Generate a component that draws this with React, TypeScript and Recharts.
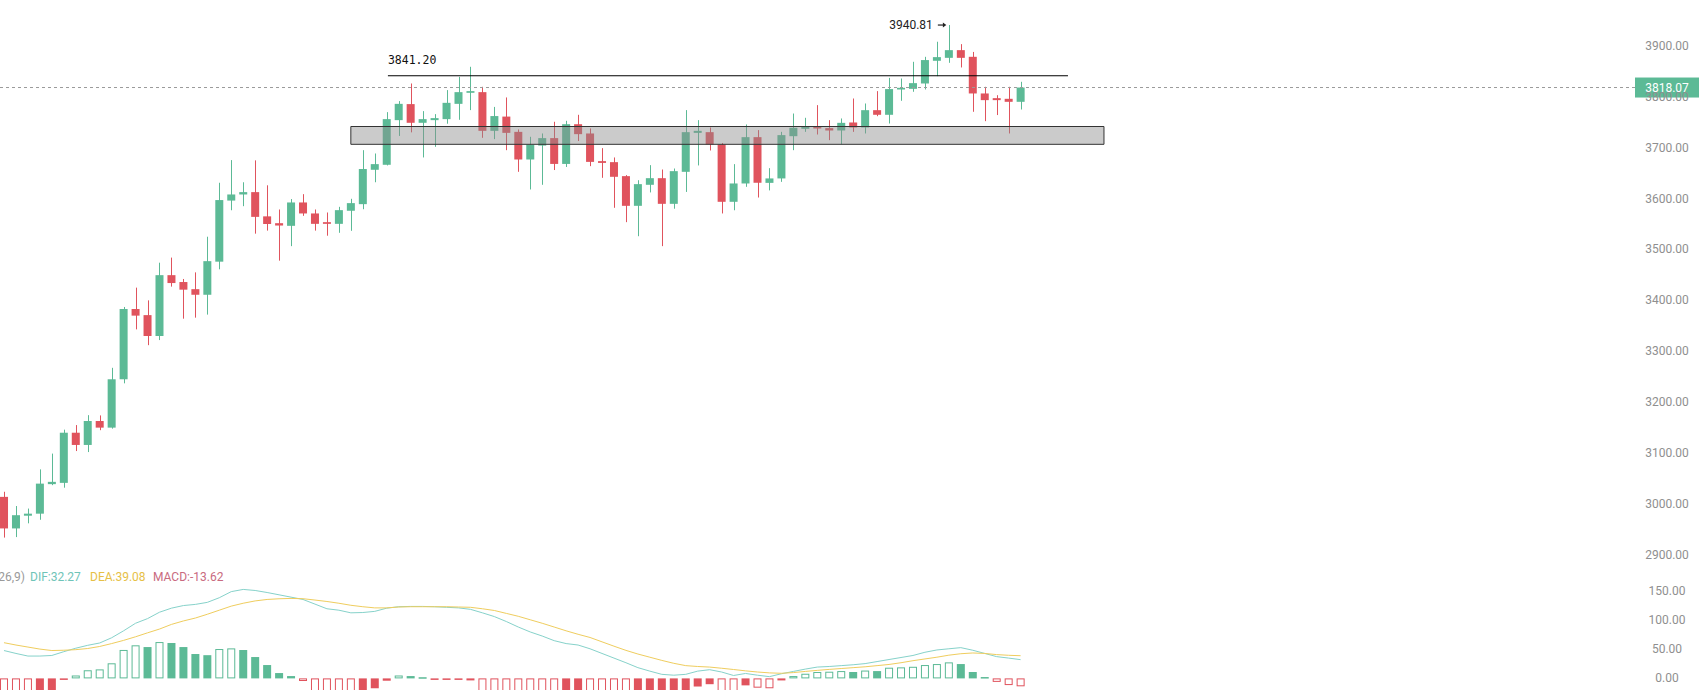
import {
  Bar,
  ComposedChart,
  Line,
  ReferenceArea,
  ReferenceDot,
  ReferenceLine,
  XAxis,
  YAxis
} from "recharts";

// daily candles (oldest first)
const opens = [
  3014, 2952, 2977, 2981, 3039, 3041.5, 3140, 3116, 3163, 3150,
  3245, 3383, 3371, 3330, 3449.5, 3436, 3422, 3411, 3476, 3596,
  3608, 3612.6, 3565, 3551.6, 3546.4, 3592.3, 3570.7, 3553.6, 3550.3, 3576,
  3589, 3656.5, 3666.3, 3754, 3785.5, 3748.8, 3754, 3756, 3786, 3807.7,
  3809, 3733, 3761, 3731, 3676.7, 3704, 3718.7, 3668, 3746, 3727.8,
  3673.5, 3671.5, 3644, 3585.7, 3627, 3640, 3589.6, 3652.5, 3729, 3730.4,
  3706.2, 3593.6, 3629.6, 3720.6, 3630.8, 3639.5, 3722.5, 3737, 3741.5, 3738.3,
  3733.7, 3749.4, 3739.6, 3773.6, 3764.5, 3814.2, 3815.5, 3826, 3870.6, 3876.4,
  3891.5, 3878.4, 3806.4, 3797.2, 3795.9, 3790
];
const highs = [
  3024, 2996, 2991, 3068, 3099, 3146, 3155, 3174.5, 3174, 3267.5,
  3387, 3425, 3400, 3474, 3484, 3442, 3455, 3525, 3631, 3675.5,
  3632, 3675, 3626, 3578.5, 3599, 3608.6, 3578.5, 3572.6, 3583.7, 3599.5,
  3695, 3688.5, 3769.7, 3791.4, 3826, 3771.7, 3765.8, 3813, 3839, 3858.8,
  3819.5, 3780, 3798.6, 3735.7, 3721.3, 3727.8, 3750.8, 3752.7, 3764.5, 3737.7,
  3699, 3680.7, 3646, 3636, 3665.6, 3657, 3659, 3773.7, 3754, 3739.6,
  3709, 3667.6, 3745.5, 3734.4, 3659.7, 3731, 3767, 3758.6, 3783.5, 3754,
  3757.3, 3796.5, 3786.7, 3811, 3837, 3835.8, 3868.6, 3878.4, 3908, 3940.81,
  3903.3, 3888, 3819.5, 3803, 3819.5, 3829.3
];
const lows = [
  2934, 2935, 2962, 2969, 3037, 3032, 3104, 3102, 3145, 3148,
  3237, 3343, 3312, 3322, 3427, 3364, 3366, 3372, 3461, 3577,
  3585, 3531, 3537, 3478, 3506.5, 3566, 3537, 3527, 3532.7, 3536.6,
  3579, 3632, 3665, 3723, 3730, 3680.7, 3701.6, 3747, 3754.7, 3773.7,
  3719.3, 3716.7, 3695, 3652.5, 3617.8, 3627, 3656, 3662, 3713, 3663.6,
  3640.7, 3581.8, 3553.6, 3526, 3612, 3506.5, 3580, 3613, 3665, 3694.4,
  3570.7, 3577, 3623, 3602, 3616, 3632.8, 3695, 3731, 3725.8, 3714.7,
  3706.8, 3731, 3727.8, 3761.8, 3747.4, 3792, 3809.7, 3814.2, 3840.4, 3866.6,
  3857.5, 3770.4, 3752, 3764, 3727.8, 3774.9
];
const closes = [
  2952, 2978, 2981, 3040, 3043.5, 3140, 3116, 3163, 3150, 3245,
  3383, 3370, 3330, 3449.5, 3434, 3421, 3411, 3477, 3597, 3608,
  3612.6, 3564, 3550, 3547, 3592.3, 3570.7, 3550.3, 3550.3, 3577.2, 3591,
  3658, 3667.6, 3756, 3786, 3748.8, 3756, 3758, 3788, 3809, 3811,
  3733, 3762, 3729, 3676.7, 3706, 3718.7, 3668, 3746, 3726.5, 3672,
  3670, 3642.7, 3585.7, 3628.3, 3640, 3589.6, 3653.8, 3730.4, 3733, 3706.2,
  3593.6, 3629.6, 3720.6, 3631, 3639.5, 3724.6, 3739, 3741.5, 3737.6, 3733.7,
  3748.7, 3739.6, 3773.6, 3764.5, 3815, 3817.5, 3826.7, 3872, 3877.8, 3891.5,
  3876.4, 3806.4, 3793.3, 3793.3, 3790, 3818.07
];

// MACD(12,26,9)
const difValues = [
  48, 43, 38.5, 38.5, 39.5, 46, 52, 57, 61, 70,
  82, 95, 103, 114, 121, 125.5, 127.5, 131, 139, 149.5,
  153.3, 151.5, 148, 144, 140, 136, 128, 120, 117.5, 113,
  113.5, 115.5, 121, 123.5, 124, 124, 123.5, 122.5, 121.5, 119,
  113, 106.5, 98, 88.5, 80, 73, 65, 60, 57.5, 51,
  43, 35, 27, 18.5, 12.5, 7, 5.5, 7, 12.5, 15,
  11, 5, 8.5, 5.5, 3, 8, 12, 16, 19.5, 20.5,
  22, 23.5, 25.5, 29, 32.5, 36, 39.5, 45, 49, 51,
  53, 48.5, 43, 37.5, 35, 32.27
];
const deaValues = [
  61.5, 57.5, 54, 50.5, 48, 48.5, 49.5, 51.5, 55, 60,
  65.5, 71.7, 78.5, 85, 93, 99, 104, 110.5, 117.5, 124.5,
  129.5, 133.5, 136, 137.2, 137.8, 137.3, 135, 132.5, 129.5, 126,
  123.5, 121.5, 121.5, 123, 123.5, 123.5, 123.5, 123.5, 123, 122.5,
  120, 117, 112, 107, 101, 95, 88.5, 82, 76, 70.5,
  63, 55.5, 48.3, 42, 36.5, 31, 26, 22, 20.5, 19.5,
  17.5, 15.3, 13, 11, 9.5, 8.8, 10, 12, 13.8, 15.5,
  17, 18.5, 20, 22, 24, 27, 30.5, 33.5, 36.5, 40,
  42.5, 43.8, 43, 41, 39.8, 39.08
];
const macdValues = [
  -26, -29, -32, -26, -21, -2, 5, 14, 15.5, 26,
  49, 57, 54, 62.6, 61, 54, 42, 40, 50.6, 51.7,
  48.9, 36.8, 23, 9.2, 4, -4.5, -22, -27, -30, -34,
  -26, -17, -4, 5, 4, 2, -2, -2, -1, -3,
  -22, -28, -34, -40, -44, -48, -52, -46, -38, -42,
  -46, -50, -54, -48, -44, -40, -36, -28, -14, -10,
  -22, -28, -12, -16, -17, -3.5, 4, 8, 11, 11.5,
  12.6, 11, 13.5, 12.6, 18.4, 19, 20, 23, 24.7, 27.6,
  24.7, 11, 2.3, -6, -11.5, -13.62
];

const priceTicks = [2900, 3000, 3100, 3200, 3300, 3400, 3500, 3600, 3700, 3800, 3900];
const macdTicks = [0, 50, 100, 150];

const lastPrice = 3818.07;
const resistance = 3841.2;
const peakPrice = 3940.81;
const peakIndex = 79;
const zoneLow = 3706.5;
const zoneHigh = 3741.5;

const GREEN = "#5cba96";
const RED = "#e0535d";
const AXIS_TEXT = "#8f8f8f";

const rows = opens.map((open, i) => ({
  i,
  open,
  high: highs[i],
  low: lows[i],
  close: closes[i],
  dif: difValues[i],
  dea: deaValues[i],
  hist: macdValues[i]
}));

const xDomain: [number, number] = [-0.334, 136.37];

function Candle(props: any) {
  const { x, y, width, height, payload } = props;
  const top = Math.min(y, y + height);
  const h = Math.abs(height);
  const { open, close, high, low } = payload;
  const k = h / (high - low);
  const color = close >= open ? GREEN : RED;
  const bodyTop = top + (high - Math.max(open, close)) * k;
  const bodyH = Math.max(Math.abs(open - close) * k, 1.5);
  const cx = Math.round(x + width / 2) + 0.5;
  return (
    <g>
      <line x1={cx} x2={cx} y1={top} y2={top + h} stroke={color} strokeWidth={1} />
      <rect x={x} y={bodyTop} width={width} height={bodyH} fill={color} />
    </g>
  );
}

function HistBar(props: any) {
  const { x, y, width, height, index, payload } = props;
  const top = Math.min(y, y + height);
  const h = Math.abs(height);
  const v = payload.hist;
  const prev = index > 0 ? macdValues[index - 1] : 0;
  const color = v >= 0 ? GREEN : RED;
  // hollow while the bar grows, filled while it shrinks
  if (Math.abs(v) > Math.abs(prev)) {
    return (
      <rect x={x + 0.5} y={top + 0.5} width={width - 1} height={Math.max(h - 1, 1)}
        fill="none" stroke={color} strokeWidth={1} />
    );
  }
  return <rect x={x} y={top} width={width} height={Math.max(h, 1.5)} fill={color} />;
}

function AxisTick(props: any) {
  const { x, y, payload } = props;
  return (
    <text x={x + 32} y={y} dy={4} textAnchor="middle" fill={AXIS_TEXT} fontSize={12}
      fontFamily="Roboto, sans-serif">
      {Number(payload.value).toFixed(2)}
    </text>
  );
}

function LastPriceTag(props: any) {
  const { viewBox } = props;
  const x = viewBox.x + viewBox.width;
  const y = viewBox.y;
  return (
    <g>
      <rect x={x} y={y - 10} width={64} height={20} fill={GREEN} />
      <text x={x + 32} y={y} dy={4} textAnchor="middle" fill="#fff" fontSize={12}
        fontFamily="Roboto, sans-serif">
        {lastPrice.toFixed(2)}
      </text>
    </g>
  );
}

function ResistanceTag(props: any) {
  const { viewBox } = props;
  return (
    <text x={viewBox.x} y={viewBox.y - 12} fill="#111" fontSize={11.5}
      fontFamily="'DejaVu Sans Mono', monospace">
      {resistance.toFixed(2)}
    </text>
  );
}

function PeakTag(props: any) {
  const { viewBox } = props;
  const cx = viewBox.x + viewBox.width / 2;
  const cy = viewBox.y + viewBox.height / 2;
  return (
    <g>
      <text x={cx - 16} y={cy + 3.5} textAnchor="end" fill="#222" fontSize={12}
        fontFamily="Roboto, sans-serif">
        {peakPrice.toFixed(2)}
      </text>
      <line x1={cx - 11} x2={cx - 4} y1={cy} y2={cy} stroke="#222" strokeWidth={1.2} />
      <path d={`M${cx - 2.5},${cy} L${cx - 6},${cy - 2.5} L${cx - 6},${cy + 2.5} Z`} fill="#222" />
    </g>
  );
}

export default function App() {
  return (
    <div style={{ position: "absolute", left: 0, top: 0, width: 1699, height: 690, background: "#fff", overflow: "hidden" }}>
      <div style={{ position: "absolute", left: 0, top: 0 }}>
        <ComposedChart width={1699} height={580} data={rows} margin={{ top: 0, right: 0, bottom: 0, left: 0 }}>
          <XAxis dataKey="i" type="number" domain={xDomain} allowDataOverflow hide />
          <YAxis orientation="right" width={64} domain={[2850.7, 3990]} ticks={priceTicks} allowDataOverflow
            interval={0} axisLine={false} tickLine={false} tickSize={0} tickMargin={0} tick={<AxisTick />} />
          <ReferenceLine y={lastPrice} stroke="#9a9a9a" strokeDasharray="3 3" label={<LastPriceTag />} />
          <Bar dataKey={(d: any) => [d.low, d.high]} barSize={8} shape={<Candle />} isAnimationActive={false} />
          <ReferenceArea x1={29.0} x2={91.97} y1={zoneLow} y2={zoneHigh} fill="#8c8c8c" fillOpacity={0.45}
            stroke="#333" strokeWidth={1} zIndex={350} />
          <ReferenceLine segment={[{ x: 32.1, y: resistance }, { x: 88.96, y: resistance }]} stroke="#000"
            strokeWidth={1} label={<ResistanceTag />} />
          <ReferenceDot x={peakIndex} y={peakPrice} r={1} fill="none" stroke="none" label={<PeakTag />} />
        </ComposedChart>
      </div>
      <div style={{ position: "absolute", left: 0, top: 560 }}>
        <ComposedChart width={1699} height={130} data={rows} margin={{ top: 0, right: 0, bottom: 0, left: 0 }}>
          <XAxis dataKey="i" type="number" domain={xDomain} allowDataOverflow hide />
          <YAxis orientation="right" width={64} domain={[-20, 204]} ticks={macdTicks} allowDataOverflow
            interval={0} axisLine={false} tickLine={false} tickSize={0} tickMargin={0} tick={<AxisTick />} />
          <Bar dataKey="hist" barSize={8} shape={<HistBar />} isAnimationActive={false} />
          <Line dataKey="dif" type="linear" stroke="#86d2ca" strokeWidth={1} dot={false} activeDot={false}
            isAnimationActive={false} />
          <Line dataKey="dea" type="linear" stroke="#efcd5e" strokeWidth={1} dot={false} activeDot={false}
            isAnimationActive={false} />
        </ComposedChart>
      </div>
      <svg width={1699} height={690} style={{ position: "absolute", left: 0, top: 0, pointerEvents: "none" }}>
        <g fontFamily="Roboto, sans-serif" fontSize={12}>
          <text x={25} y={581} textAnchor="end" fill="#9a9a9a">MACD(12,26,9)</text>
          <text x={30} y={581} fill="#6fc4b8">DIF:{difValues[difValues.length - 1].toFixed(2)}</text>
          <text x={90} y={581} fill="#e6c046">DEA:{deaValues[deaValues.length - 1].toFixed(2)}</text>
          <text x={153} y={581} fill="#c96a80">MACD:{macdValues[macdValues.length - 1].toFixed(2)}</text>
        </g>
      </svg>
    </div>
  );
}
